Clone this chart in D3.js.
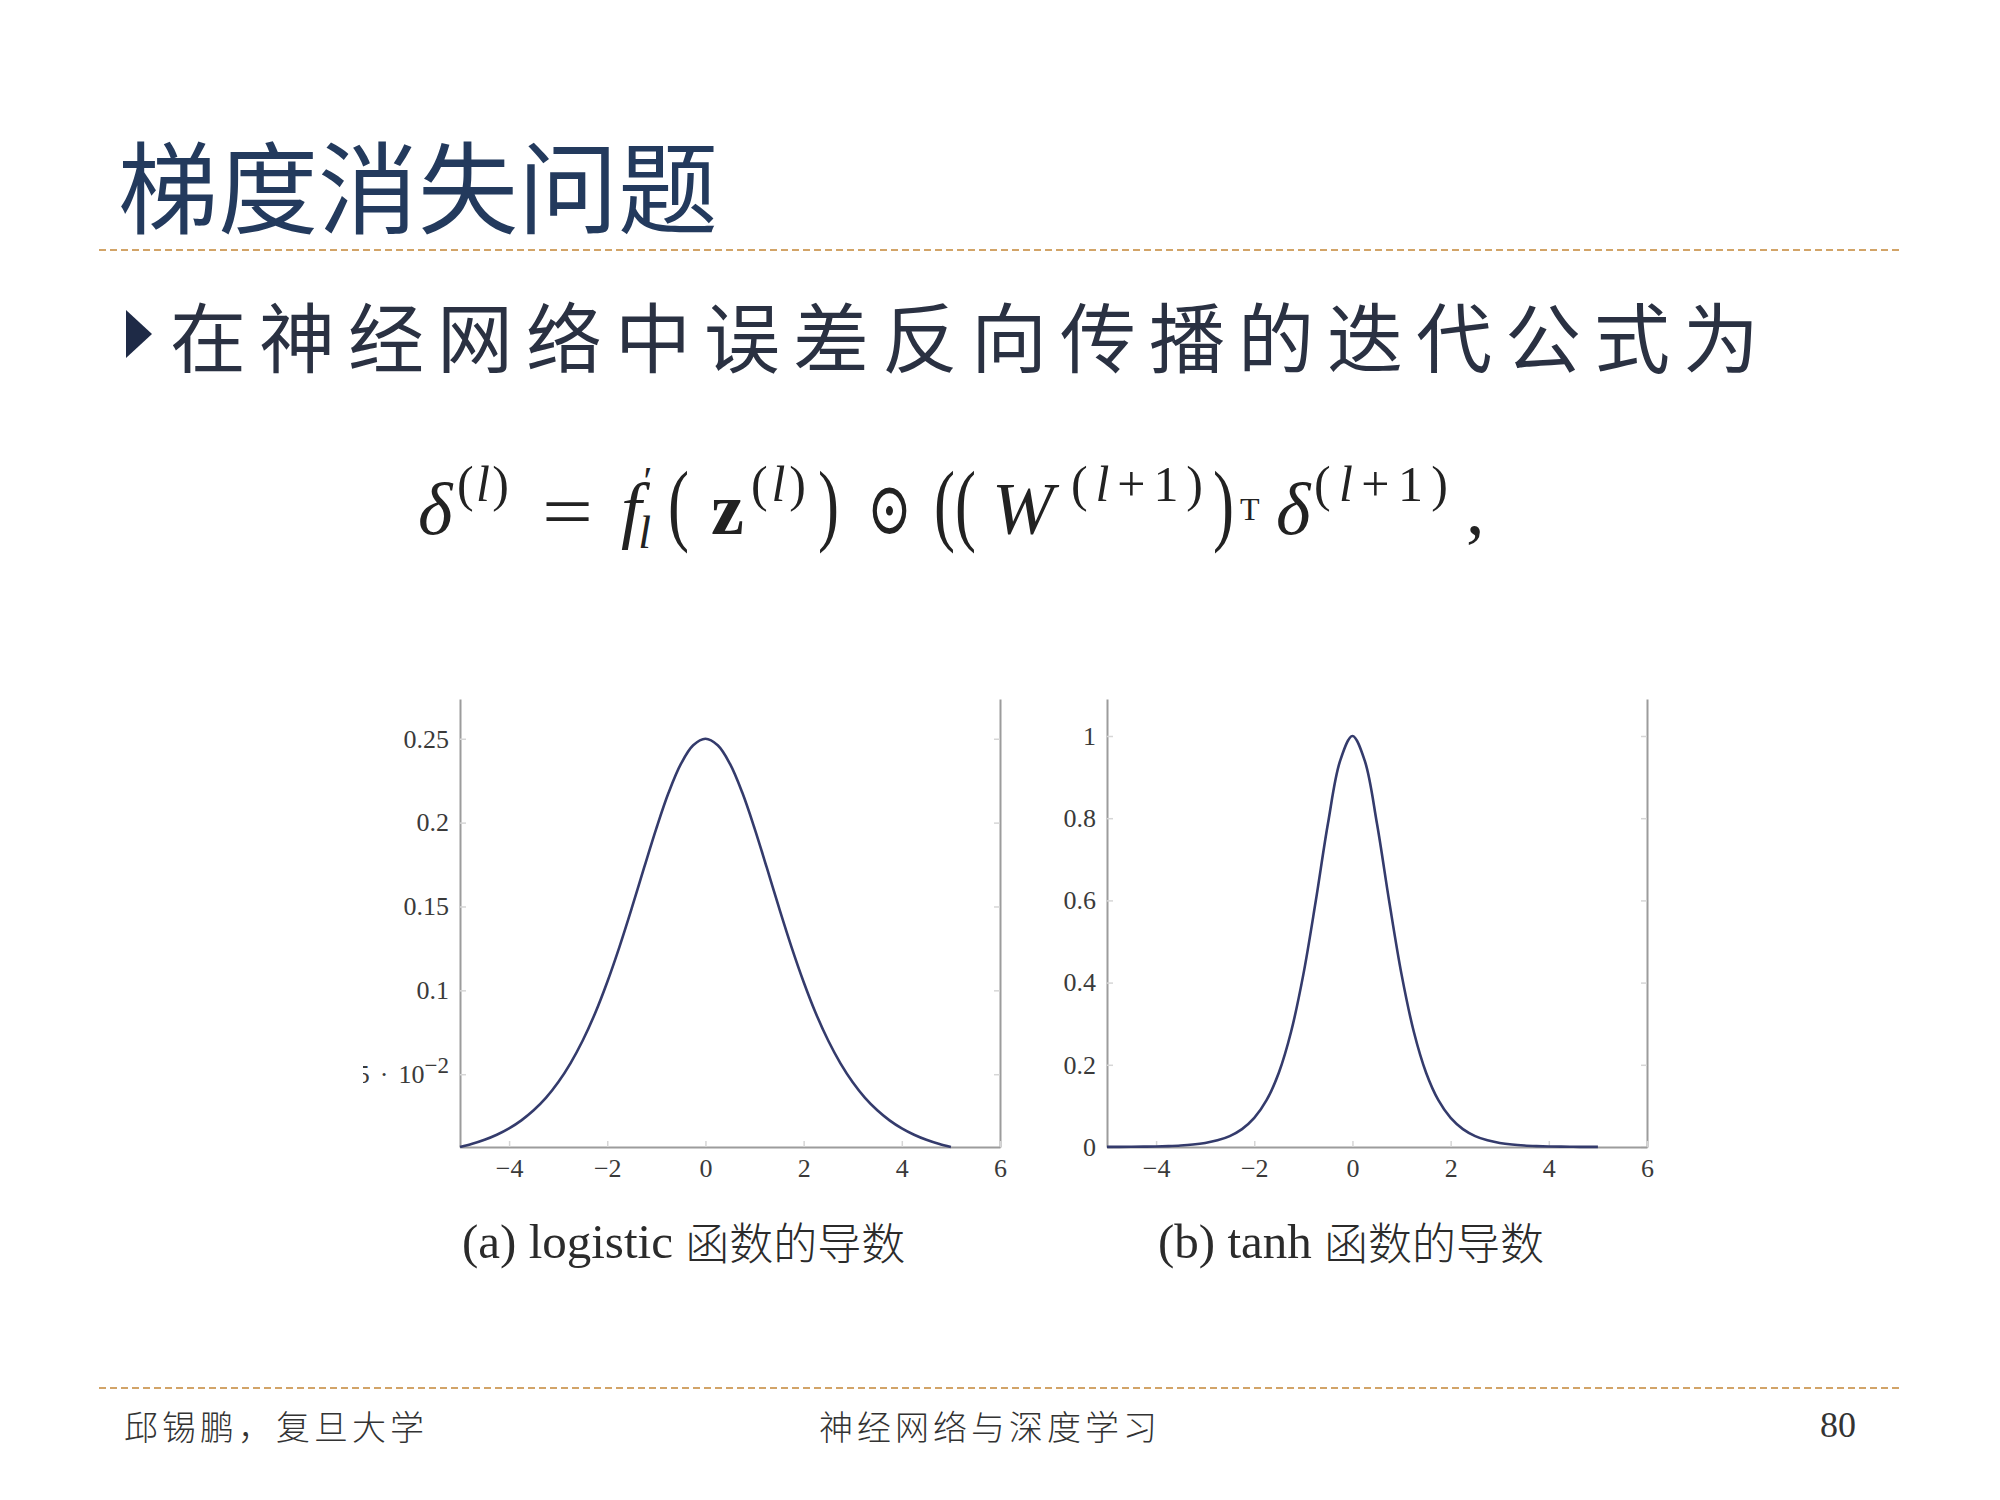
<!DOCTYPE html>
<html lang="zh">
<head>
<meta charset="utf-8">
<title>梯度消失问题</title>
<style>
  body { margin: 0; background: #fff; }
  svg { display: block; }
  .serif { font-family: "Liberation Serif", "DejaVu Serif", serif; }
  .cjk { font-family: "Noto Sans CJK SC", sans-serif; }
</style>
</head>
<body>
<div id="slide"></div>
<script src="https://d3js.org/d3.v7.min.js"></script>
<script>
// ---- data ----
var xs = [-5, -4.75, -4.5, -4.25, -4, -3.75, -3.5, -3.25, -3, -2.75, -2.5, -2.25, -2, -1.75, -1.5, -1.25, -1, -0.75, -0.5, -0.25,
          0, 0.25, 0.5, 0.75, 1, 1.25, 1.5, 1.75, 2, 2.25, 2.5, 2.75, 3, 3.25, 3.5, 3.75, 4, 4.25, 4.5, 4.75, 5];

// (a) derivative of logistic
var logisticDeriv = [0.0066, 0.0085, 0.0109, 0.0139, 0.0177, 0.0225, 0.0285, 0.0359, 0.0452, 0.0565, 0.0701, 0.0862, 0.105, 0.1261, 0.1491, 0.1731, 0.1966, 0.2179, 0.235, 0.2461,
                     0.25, 0.2461, 0.235, 0.2179, 0.1966, 0.1731, 0.1491, 0.1261, 0.105, 0.0862, 0.0701, 0.0565, 0.0452, 0.0359, 0.0285, 0.0225, 0.0177, 0.0139, 0.0109, 0.0085, 0.0066];

// (b) derivative of tanh
var tanhDeriv = [0.0002, 0.0003, 0.0005, 0.0008, 0.0013, 0.0022, 0.0036, 0.006, 0.0099, 0.0163, 0.0266, 0.0435, 0.0707, 0.1138, 0.1807, 0.2804, 0.42, 0.5966, 0.7864, 0.94,
                 1, 0.94, 0.7864, 0.5966, 0.42, 0.2804, 0.1807, 0.1138, 0.0707, 0.0435, 0.0266, 0.0163, 0.0099, 0.006, 0.0036, 0.0022, 0.0013, 0.0008, 0.0005, 0.0003, 0.0002];

var xTicks = [-4, -2, 0, 2, 4, 6];
var xTickLabels = ["\u22124", "\u22122", "0", "2", "4", "6"];
var leftYTicks = [0.05, 0.1, 0.15, 0.2, 0.25];
var leftYLabels = ["5 \u00b7 10", "0.1", "0.15", "0.2", "0.25"];
var rightYTicks = [0, 0.2, 0.4, 0.6, 0.8, 1];
var rightYLabels = ["0", "0.2", "0.4", "0.6", "0.8", "1"];

var title = "梯度消失问题";
var bullet = "在神经网络中误差反向传播的迭代公式为";
var captionA = ["(a) logistic", "函数的导数"];
var captionB = ["(b) tanh", "函数的导数"];
var footer = ["邱锡鹏，复旦大学", "神经网络与深度学习", "80"];

// ---- page ----
var W = 2000, H = 1500;
var svg = d3.select("#slide").append("svg")
    .attr("width", W).attr("height", H)
    .attr("viewBox", "0 0 " + W + " " + H);

svg.append("rect").attr("width", W).attr("height", H).attr("fill", "#fff");

svg.append("text")
    .attr("class", "cjk")
    .attr("x", 118).attr("y", 182)
    .attr("dominant-baseline", "central")
    .style("font-size", "100px")
    .attr("fill", "#233a5d")
    .text(title);

function dashed(y) {
  svg.append("line")
      .attr("x1", 99).attr("x2", 1900).attr("y1", y).attr("y2", y)
      .attr("stroke", "#d2a468").attr("stroke-width", 2)
      .attr("stroke-dasharray", "7,4");
}
dashed(250);
dashed(1388);

// bullet triangle + text
svg.append("path")
    .attr("d", "M126,310 L152,334 L126,358 Z")
    .attr("fill", "#1e2a46");
svg.append("text")
    .attr("class", "cjk")
    .attr("x", 170).attr("y", 334)
    .attr("dominant-baseline", "central")
    .style("font-size", "76px")
    .style("letter-spacing", "13px")
    .attr("fill", "#2a3142")
    .text(bullet);

// ---- formula: each piece set at its spot in the line ----
var math = svg.append("g").attr("class", "serif").attr("fill", "#222");
var BASE = 534, UP = 33, SUP = 50, BIG = 92;
function mp(x, runs, o) {
  o = o || {};
  var t = math.append("text")
      .attr("x", x).attr("y", BASE - (o.up || 0))
      .style("font-size", (o.s || 74) + "px");
  runs.forEach(function(r) {
    var ts = t.append("tspan")
        .style("font-style", r[1] === "i" ? "italic" : "normal")
        .style("font-weight", r[1] === "b" ? "bold" : "normal")
        .text(r[0]);
    if (r[2]) {
      // optional per-run shift / size: [dx, dy, size]
      ts.attr("dx", r[2][0]).attr("dy", r[2][1]);
      if (r[2][2]) ts.style("font-size", r[2][2] + "px");
    }
  });
  if (o.w) {
    t.attr("textLength", o.w).attr("lengthAdjust", o.glyph ? "spacingAndGlyphs" : "spacing");
  }
}
var supL = [["(", ""], ["l", "i"], [")", ""]];
var supL1 = [["(", ""], ["l", "i"], ["+1", ""], [")", ""]];

mp(418, [["\u03b4", "i"]]);
mp(457, supL, {w: 52, up: UP, s: SUP});
mp(542, [["=", ""]], {w: 51, glyph: true, s: 74, up: -2});
// f with prime above and l below, kept in one text
mp(621, [["f", "i"], ["\u2032", "", [2, -40, 40]], ["l", "i", [-14, 54, 46]]]);
mp(668, [["(", ""]], {s: BIG, w: 21, glyph: true});
mp(711, [["z", "b"]]);
mp(751, supL, {w: 55, up: UP, s: SUP});
mp(818, [[")", ""]], {s: BIG, w: 21, glyph: true});
mp(867, [["\u2299", ""]], {w: 45, glyph: true, s: 74});
mp(934, [["((", ""]], {s: BIG, w: 42, glyph: true});
mp(992, [["W", "i"]]);
mp(1071, supL1, {w: 132, up: UP, s: SUP});
mp(1213, [[")", ""]], {s: BIG, w: 21, glyph: true});
mp(1240, [["T", ""]], {up: 14, s: 32});
mp(1276, [["\u03b4", "i"]]);
mp(1314, supL1, {w: 134, up: UP, s: SUP});
mp(1466, [[",", ""]]);

// ---- the two plots ----
var curveColor = "#343b6c";

function drawPlot(cfg) {
  var g = svg.append("g");
  var x = d3.scaleLinear().domain([-5, 6]).range(cfg.xr);
  var y = d3.scaleLinear().domain(cfg.yd).range([1147, 699]);

  var left = g.append("g")
      .attr("transform", "translate(" + cfg.xr[0] + ",0)")
      .call(d3.axisLeft(y).tickValues(cfg.yTicks)
            .tickFormat(function(d, i) { return cfg.yLabels[i]; })
            .tickSize(-6).tickSizeOuter(0).tickPadding(11));
  g.append("g")
      .attr("transform", "translate(" + cfg.xr[1] + ",0)")
      .call(d3.axisRight(y).tickValues(cfg.yTicks).tickFormat("")
            .tickSize(-6).tickSizeOuter(0));
  g.append("g")
      .attr("transform", "translate(0,1147)")
      .call(d3.axisBottom(x).tickValues(xTicks)
            .tickFormat(function(d, i) { return xTickLabels[i]; })
            .tickSize(-6).tickSizeOuter(0).tickPadding(12));

  g.selectAll(".domain").attr("stroke", "#9c9c9c").attr("stroke-width", 2);
  g.selectAll(".tick line").attr("stroke", "#d6d6d6").attr("stroke-width", 1.5);
  g.selectAll(".tick text")
      .style("font-family", "'Liberation Serif', serif")
      .style("font-size", "26px")
      .attr("fill", "#3a3a3a");

  if (cfg.sciLabel) {
    // 5·10^-2 label: rebuild with wider spacing + superscript, then cut at the slide edge
    var t = left.selectAll(".tick text").filter(function(d) { return d === 0.05; });
    var parts = cfg.yLabels[0].split(" ");
    t.text(null);
    t.append("tspan").text(parts[0]);
    t.append("tspan").attr("dx", 10).text(parts[1]);
    t.append("tspan").attr("dx", 10).text(parts[2]);
    t.append("tspan").attr("dy", -10).style("font-size", "23px").text("\u22122");
    svg.append("clipPath").attr("id", "cutLeft")
      .append("rect").attr("x", 363 - cfg.xr[0]).attr("y", 600).attr("width", 300).attr("height", 650);
    left.attr("clip-path", "url(#cutLeft)");
  }

  var line = d3.line()
      .x(function(d) { return x(d[0]); })
      .y(function(d) { return y(d[1]); })
      .curve(d3.curveCatmullRom);
  g.append("path")
      .datum(xs.map(function(v, i) { return [v, cfg.values[i]]; }))
      .attr("d", line)
      .attr("fill", "none")
      .attr("stroke", curveColor)
      .attr("stroke-width", 2.6);

  var cap = g.append("text")
      .attr("x", cfg.capX).attr("y", 1241)
      .attr("dominant-baseline", "central")
      .attr("fill", "#2b2b2b");
  cap.append("tspan")
      .style("font-family", "'Liberation Serif', serif")
      .style("font-size", "49px")
      .text(cfg.caption[0] + " ");
  cap.append("tspan")
      .style("font-family", "'Noto Sans CJK SC', sans-serif")
      .style("font-size", "44px")
      .style("font-weight", "300")
      .text(cfg.caption[1]);
}

drawPlot({xr: [460, 1000], yd: [0.0066, 0.2737], yTicks: leftYTicks, yLabels: leftYLabels,
          values: logisticDeriv, caption: captionA, capX: 462, sciLabel: true});
drawPlot({xr: [1107, 1647], yd: [0, 1.09], yTicks: rightYTicks, yLabels: rightYLabels,
          values: tanhDeriv, caption: captionB, capX: 1158});

// ---- footer ----
var foot = svg.append("g").attr("fill", "#333");
foot.append("text").attr("class", "cjk")
    .attr("x", 124).attr("y", 1425).attr("dominant-baseline", "central")
    .style("font-size", "34px").style("letter-spacing", "4px").style("font-weight", "300")
    .text(footer[0]);
foot.append("text").attr("class", "cjk")
    .attr("x", 990).attr("y", 1425).attr("dominant-baseline", "central")
    .attr("text-anchor", "middle")
    .style("font-size", "34px").style("letter-spacing", "4px").style("font-weight", "300")
    .text(footer[1]);
foot.append("text").attr("class", "serif")
    .attr("x", 1856).attr("y", 1425).attr("dominant-baseline", "central")
    .attr("text-anchor", "end")
    .style("font-size", "36px")
    .text(footer[2]);
</script>
</body>
</html>
